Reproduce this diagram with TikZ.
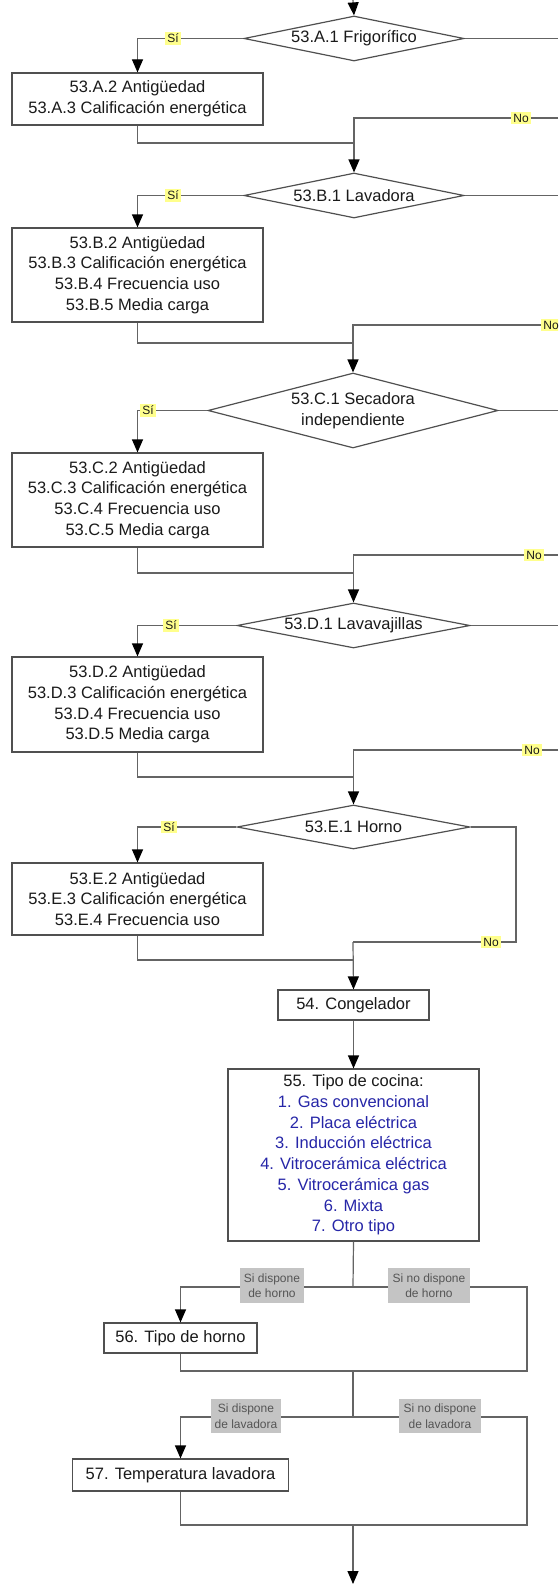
\documentclass[tikz,border=0pt]{standalone}
\usepackage{fontspec}
\setmainfont{Liberation Sans}
\usetikzlibrary{arrows.meta,shapes.geometric}
\definecolor{linegray}{HTML}{646464}
\definecolor{framegray}{HTML}{505050}
\definecolor{optblue}{RGB}{38,38,168}
\definecolor{hiyellow}{HTML}{FFFF8C}
\definecolor{tagfill}{HTML}{C4C4C4}
\definecolor{tagtext}{HTML}{555555}
\definecolor{inkgray}{HTML}{1A1A1A}
\newcommand\mainfs{\fontsize{16.5pt}{20.7pt}\selectfont}
\newcommand\tagfs{\fontsize{12pt}{15.5pt}\selectfont}
\newcommand\ynfs{\fontsize{12pt}{14pt}\selectfont}

\begin{document}
\begin{tikzpicture}[x=1pt,y=-1pt,
  box/.style={draw=framegray, line width=1.2pt, fill=white, align=center,
    inner sep=0pt, font=\mainfs, text=inkgray},
  dia/.style={diamond, draw=framegray, line width=1.2pt, fill=white, inner sep=0pt},
  dtext/.style={align=center, font=\mainfs, text=inkgray, inner sep=0pt},
  conn/.style={draw=linegray, line width=1.2pt},
  arr/.style={conn, -{Triangle[width=11pt,length=13pt,color=black]}},
  yn/.style={fill=hiyellow, font=\ynfs, text=inkgray, inner sep=2pt},
  tag/.style={fill=tagfill, font=\tagfs, text=tagtext, align=center, inner sep=0pt}
]
\clip (0,0) rectangle (558,1584);
\fill[white] (0,0) rectangle (558,1584);

% ---------- decisions ----------
\node[dia, minimum width=220pt, minimum height=45pt] (dA) at (354,38.5) {};
\node[dtext] (tA) at (dA.center) {53.A.1 Frigorífico};
\node[dia, minimum width=220pt, minimum height=45pt] (dB) at (354,195.5) {};
\node[dtext] (tB) at (dB.center) {53.B.1 Lavadora};
\node[dia, minimum width=290pt, minimum height=75pt] (dC) at (353,410.5) {};
\node[dtext] (tC) at (dC.center) {53.C.1 Secadora\\independiente};
\node[dia, minimum width=233pt, minimum height=45pt] (dD) at (353.5,625.5) {};
\node[dtext] (tD) at (dD.center) {53.D.1 Lavavajillas};
\node[dia, minimum width=233pt, minimum height=44pt] (dE) at (353.5,827) {};
\node[dtext] (tE) at (dE.center) {53.E.1 Horno};

% ---------- question blocks ----------
\node[box, minimum width=251pt, minimum height=52pt] (bA) at (137.5,99)
  {53.A.2 Antigüedad\\53.A.3 Calificación energética};
\node[box, minimum width=251pt, minimum height=94pt] (bB) at (137.5,275)
  {53.B.2 Antigüedad\\53.B.3 Calificación energética\\53.B.4 Frecuencia uso\\53.B.5 Media carga};
\node[box, minimum width=251pt, minimum height=94pt] (bC) at (137.5,500)
  {53.C.2 Antigüedad\\53.C.3 Calificación energética\\53.C.4 Frecuencia uso\\53.C.5 Media carga};
\node[box, minimum width=251pt, minimum height=95pt] (bD) at (137.5,704.5)
  {53.D.2 Antigüedad\\53.D.3 Calificación energética\\53.D.4 Frecuencia uso\\53.D.5 Media carga};
\node[box, minimum width=251pt, minimum height=72pt] (bE) at (137.5,899)
  {53.E.2 Antigüedad\\53.E.3 Calificación energética\\53.E.4 Frecuencia uso};
\node[box, minimum width=151pt, minimum height=30pt] (b54) at (353.5,1005) {54. Congelador};
\node[box, minimum width=251pt, minimum height=172pt] (b55) at (353.5,1155)
  {55. Tipo de cocina:\\
   \textcolor{optblue}{1. Gas convencional}\\
   \textcolor{optblue}{2. Placa eléctrica}\\
   \textcolor{optblue}{3. Inducción eléctrica}\\
   \textcolor{optblue}{4. Vitrocerámica eléctrica}\\
   \textcolor{optblue}{5. Vitrocerámica gas}\\
   \textcolor{optblue}{6. Mixta}\\
   \textcolor{optblue}{7. Otro tipo}};
\node[box, minimum width=153pt, minimum height=30pt] (b56) at (180.5,1338) {56. Tipo de horno};
\node[box, minimum width=216pt, minimum height=32pt] (b57) at (180.5,1475) {57. Temperatura lavadora};

% ---------- junction points ----------
\coordinate (top) at (353,0);
\coordinate (eA) at (558,38.5);   \coordinate (nA) at (558,118);  \coordinate (jA) at (353,143);
\coordinate (eB) at (558,195.5);  \coordinate (nB) at (558,325);  \coordinate (jB) at (353,343);
\coordinate (eC) at (558,410.5);  \coordinate (nC) at (558,555);  \coordinate (jC) at (353,573);
\coordinate (eD) at (558,625.5);  \coordinate (nD) at (558,750);  \coordinate (jD) at (353,777);
\coordinate (cE) at (516,942);    \coordinate (nE) at (353,942);  \coordinate (jE) at (353,960);
\coordinate (s1) at (353,1287);   \coordinate (r1) at (527,1371); \coordinate (j1) at (353,1371);
\coordinate (s2) at (353,1417);   \coordinate (r2) at (527,1525); \coordinate (j2) at (353,1525);
\coordinate (bot) at (353,1584);

% ---------- connectors ----------
\draw[arr] (top) -- (dA.north);
\draw[arr] (dA.west) -| (bA.north);
\draw[conn] (dA.east) -- (eA);
\draw[conn] (bA.south) |- (jA);
\draw[arr] (nA) -| (dB.north);

\draw[arr] (dB.west) -| (bB.north);
\draw[conn] (dB.east) -- (eB);
\draw[conn] (bB.south) |- (jB);
\draw[arr] (nB) -| (dC.north);

\draw[arr] (dC.west) -| (bC.north);
\draw[conn] (dC.east) -- (eC);
\draw[conn] (bC.south) |- (jC);
\draw[arr] (nC) -| (dD.north);

\draw[arr] (dD.west) -| (bD.north);
\draw[conn] (dD.east) -- (eD);
\draw[conn] (bD.south) |- (jD);
\draw[arr] (nD) -| (dE.north);

\draw[arr] (dE.west) -| (bE.north);
\draw[conn] (dE.east) -| (cE) -- (nE);
\draw[conn] (bE.south) |- (jE);
\draw[arr] (nE) -- (b54.north);

\draw[arr] (b54.south) -- (b55.north);
\draw[conn] (b55.south) -- (s1);
\draw[arr] (s1) -| (b56.north);
\draw[conn] (s1) -| (r1) -- (j1);
\draw[conn] (b56.south) |- (j1);
\draw[conn] (j1) -- (s2);
\draw[arr] (s2) -| (b57.north);
\draw[conn] (s2) -| (r2) -- (j2);
\draw[conn] (b57.south) |- (j2);
\draw[arr] (j2) -- (bot);

% ---------- branch labels ----------
\node[yn] (yA) at (173,38.5) {Sí};
\node[yn] (yB) at (173,195.5) {Sí};
\node[yn] (yC) at (148,410.5) {Sí};
\node[yn] (yD) at (171,625.5) {Sí};
\node[yn] (yE) at (169,827) {Sí};
\node[yn] (oA) at (521,118) {No};
\node[yn] (oB) at (551,325) {No};
\node[yn] (oC) at (534,555) {No};
\node[yn] (oD) at (532,750) {No};
\node[yn] (oE) at (491,942) {No};

\node[tag, minimum width=64pt, minimum height=35pt] (g1) at (272,1285.5) {Si dispone\\de horno};
\node[tag, minimum width=82pt, minimum height=35pt] (g2) at (429,1285.5) {Si no dispone\\de horno};
\node[tag, minimum width=70pt, minimum height=34pt] (g3) at (246,1416) {Si dispone\\de lavadora};
\node[tag, minimum width=82pt, minimum height=34pt] (g4) at (440,1416) {Si no dispone\\de lavadora};
\end{tikzpicture}
\end{document}
